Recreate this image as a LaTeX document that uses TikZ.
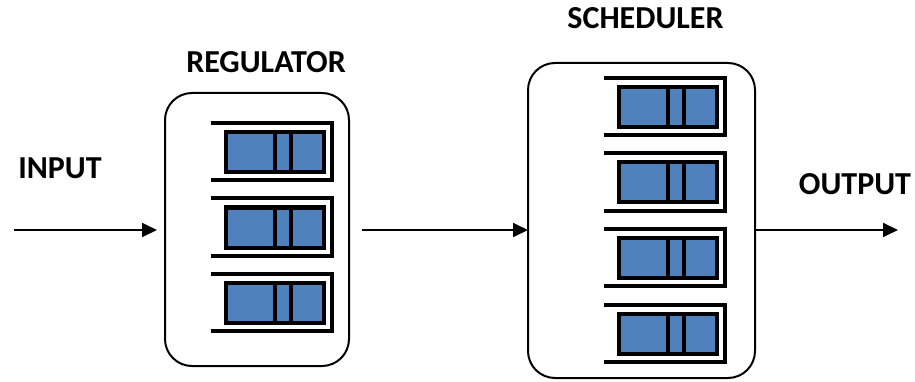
\documentclass[tikz,border=0pt]{standalone}
\usepackage{fontspec}
\setmainfont{Carlito}
\usepackage{tikz}
\usetikzlibrary{arrows.meta}
\definecolor{azul}{HTML}{4F81BD}
\tikzstyle{texto}=[inner sep=0pt,font=\bfseries\fontsize{32}{37}\selectfont]
\tikzstyle{caixa}=[draw,line width=2pt,rounded corners=27pt,inner sep=0pt,outer sep=0pt]
\tikzstyle{seta}=[line width=1.8pt,-{Triangle[length=15pt,width=14pt]}]
\tikzstyle{borda}=[line width=4pt]
\tikzstyle{celula}=[draw,fill=azul,line width=4pt]
% uma fila: suporte aberto a esquerda + celula azul
\newcommand{\fila}[2]{%
  \draw [borda] (#1,#2) -- ++(121,0) -- ++(0,57) -- ++(-121,0);
  \draw [celula] (#1+15,#2+9) rectangle ++(98,40);
  \draw [line width=3.5pt] (#1+64,#2+9) -- ++(0,40) (#1+80,#2+9) -- ++(0,40);
}

\begin{document}
\begin{tikzpicture}[x=1pt,y=-1pt]
    \useasboundingbox (0,0) rectangle (915,382);
    \node [caixa,minimum width=184pt,minimum height=273pt] (reg) at (257,229.5) {};
    \node [caixa,minimum width=227pt,minimum height=315pt] (sched) at (641.5,220.5) {};
    \foreach \y in {123,198.5,274} {\fila{211}{\y}}
    \foreach \y in {78,153.5,229,304.5} {\fila{604}{\y}}
    \node [texto] (input) at (60,168) {INPUT};
    \node [texto] (regulator) at (266,62) {REGULATOR};
    \node [texto] (scheduler) at (645.5,18) {SCHEDULER};
    \node [texto] (output) at (855,184) {OUTPUT};
    \coordinate (entrada) at (14,230);
    \coordinate (saida) at (898,230);
    \draw [seta,shorten >=8pt] (entrada) -- (reg.west |- entrada);
    \draw [seta,shorten <=13pt] (reg.east |- entrada) -- (sched.west |- entrada);
    \draw [seta] (sched.east |- saida) -- (saida);
\end{tikzpicture}
\end{document}
